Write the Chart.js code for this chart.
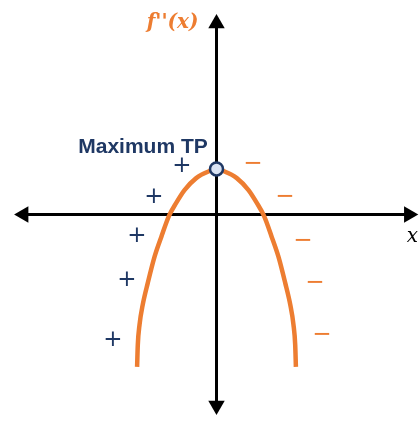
<!DOCTYPE html>
<html>
<head>
<meta charset="utf-8">
<script src="https://cdn.jsdelivr.net/npm/chart.js@4"></script>
<style>
  html, body { margin: 0; padding: 0; background: #fff; }
  canvas { display: block; }
</style>
</head>
<body>
<canvas id="graphChart" width="419" height="421"></canvas>
<script>
// f''(x) curve (1 unit = 40px)
const curveX = [-1.985, -1.9675, -1.925, -1.845, -1.7175, -1.55, -1.38, -1.185, -1.0075, -0.8, -0.5075, -0.165, 0,
                0.165, 0.5075, 0.8, 1.0075, 1.185, 1.38, 1.55, 1.7175, 1.845, 1.925, 1.9675, 1.985];
const curveY = [-3.81, -3.26, -2.76, -2.26, -1.71, -1.06, -0.56, -0.03, 0.29, 0.61, 0.91, 1.09, 1.14,
                1.09, 0.91, 0.61, 0.29, -0.03, -0.56, -1.06, -1.71, -2.26, -2.76, -3.26, -3.81];

// turning point
const tpX = [0];
const tpY = [1.14];

// axis extents (arrow tips)
const xAxisEnds = [-5.06, 5.045];
const yAxisEnds = [-5.01, 5.01];

// sign markers
const plusX = [-0.8625, -1.5625, -1.9875, -2.2375, -2.5875];
const plusY = [1.2, 0.4375, -0.55, -1.6375, -3.1375];
const minusX = [0.9125, 1.7125, 2.1625, 2.4625, 2.6375];
const minusY = [1.2625, 0.4375, -0.6625, -1.7125, -3.0125];

// text labels
const labelTexts = ["f''(x)", 'x', 'Maximum TP'];
const labelX = [-1.1, 4.9, -1.8375];
const labelY = [4.8, -0.5625, 1.5375];

const ORANGE = '#ED7D31';
const NAVY = '#1F3864';
const HEAD_R = 9.5;          // arrowhead radius in px
const UNIT = 40;             // px per unit
const headOff = HEAD_R / UNIT;

const labelStyles = [
    { font: 'italic bold 20px "DejaVu Serif"', color: ORANGE, align: 'center', base: 'middle' },
    { font: 'italic 20px "DejaVu Serif"', color: '#000', align: 'center', base: 'middle' },
    { font: 'bold 21px "Liberation Sans"', color: NAVY, align: 'center', base: 'alphabetic' }
];

const textPlugin = {
    id: 'textPlugin',
    afterDatasetsDraw(chart) {
        const { ctx, scales: { x, y } } = chart;
        ctx.save();
        // signs
        ctx.textAlign = 'center';
        ctx.textBaseline = 'middle';
        ctx.font = '23px "DejaVu Sans"';
        ctx.fillStyle = NAVY;
        plusX.forEach((v, i) => ctx.fillText('+', x.getPixelForValue(v), y.getPixelForValue(plusY[i])));
        ctx.fillStyle = ORANGE;
        minusX.forEach((v, i) => ctx.fillText('\u2212', x.getPixelForValue(v), y.getPixelForValue(minusY[i])));
        // labels
        labelTexts.forEach((t, i) => {
            const s = labelStyles[i];
            ctx.font = s.font;
            ctx.fillStyle = s.color;
            ctx.textAlign = s.align;
            ctx.textBaseline = s.base;
            ctx.fillText(t, x.getPixelForValue(labelX[i]), y.getPixelForValue(labelY[i]));
        });
        ctx.restore();
    }
};

const curveData = curveX.map((v, i) => ({ x: v, y: curveY[i] }));
const arrowData = [
    { x: xAxisEnds[0] + headOff, y: 0 },
    { x: xAxisEnds[1] - headOff, y: 0 },
    { x: 0, y: yAxisEnds[1] - headOff },
    { x: 0, y: yAxisEnds[0] + headOff }
];

new Chart(document.getElementById('graphChart'), {
    type: 'scatter',
    data: {
        datasets: [
            {
                label: 'Maximum TP',
                data: tpX.map((v, i) => ({ x: v, y: tpY[i] })),
                pointRadius: 6.5,
                pointBackgroundColor: '#DAE3F3',
                pointBorderColor: NAVY,
                pointBorderWidth: 2.5
            },
            {
                label: "f''(x)",
                type: 'line',
                data: curveData,
                borderColor: ORANGE,
                borderWidth: 4.5,
                borderCapStyle: 'butt',
                pointRadius: 0,
                fill: false,
                cubicInterpolationMode: 'monotone'
            },
            {
                label: 'arrows',
                data: arrowData,
                pointStyle: 'triangle',
                pointRadius: HEAD_R,
                pointRotation: [-90, 90, 0, 180],
                pointBackgroundColor: '#000',
                pointBorderWidth: 0
            },
            {
                label: 'x axis',
                type: 'line',
                data: arrowData.slice(0, 2),
                borderColor: '#000',
                borderWidth: 3,
                pointRadius: 0
            },
            {
                label: 'y axis',
                type: 'line',
                data: arrowData.slice(2, 4),
                borderColor: '#000',
                borderWidth: 3,
                pointRadius: 0
            }
        ]
    },
    options: {
        responsive: false,
        animation: false,
        layout: { padding: 0, autoPadding: false },
        scales: {
            x: { type: 'linear', min: -216.5 / UNIT, max: (419 - 216.5) / UNIT, display: false },
            y: { type: 'linear', min: (214.5 - 421) / UNIT, max: 214.5 / UNIT, display: false }
        },
        plugins: {
            legend: { display: false },
            tooltip: { enabled: false }
        }
    },
    plugins: [textPlugin]
});
</script>
</body>
</html>
